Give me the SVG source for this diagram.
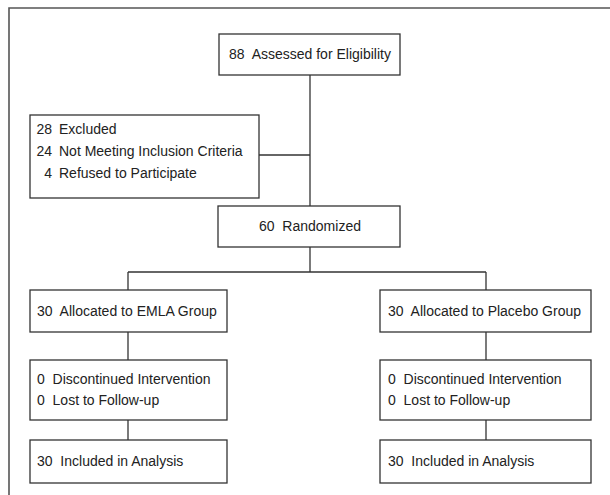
<svg xmlns="http://www.w3.org/2000/svg" width="610" height="495" viewBox="0 0 610 495">
<style>
.box{fill:#fff;stroke:#333;stroke-width:1.3}
.ln{fill:none;stroke:#333;stroke-width:1.3}
.frame{fill:none;stroke:#555;stroke-width:1.6}
text{font-family:"Liberation Sans Narrow","Arial Narrow","Liberation Sans",sans-serif;font-size:14px;fill:#222;white-space:pre}
.num{text-anchor:end}
</style>
<rect width="610" height="495" fill="#fff"/>
<path class="frame" d="M9,495 V8 H610"/>
<g id="connectors">
<path class="ln" d="M310,75 V206"/>
<path class="ln" d="M259,155 H310"/>
<path class="ln" d="M310,247 V272"/>
<path class="ln" d="M128,272 H486"/>
<path class="ln" d="M128,272 V290"/>
<path class="ln" d="M486,272 V290"/>
<path class="ln" d="M128,332 V360"/>
<path class="ln" d="M486,332 V360"/>
<path class="ln" d="M128,420 V440"/>
<path class="ln" d="M486,420 V440"/>
</g>
<g id="assessed">
<rect class="box" x="219" y="34" width="181" height="41"/>
<text x="310" y="59" text-anchor="middle">88  Assessed for Eligibility</text>
</g>
<g id="excluded">
<rect class="box" x="30" y="115" width="229" height="83"/>
<text y="134"><tspan class="num" x="52">28</tspan><tspan x="59">Excluded</tspan></text>
<text y="156"><tspan class="num" x="52">24</tspan><tspan x="59">Not Meeting Inclusion Criteria</tspan></text>
<text y="178"><tspan class="num" x="52">4</tspan><tspan x="59">Refused to Participate</tspan></text>
</g>
<g id="randomized">
<rect class="box" x="218" y="206" width="182" height="41"/>
<text x="310" y="231" text-anchor="middle">60  Randomized</text>
</g>
<g id="emla">
<rect class="box" x="30" y="290" width="197" height="42"/>
<text x="37" y="316">30  Allocated to EMLA Group</text>
</g>
<g id="placebo">
<rect class="box" x="380" y="290" width="211" height="42"/>
<text x="388" y="316">30  Allocated to Placebo Group</text>
</g>
<g id="emla-disc">
<rect class="box" x="30" y="360" width="197" height="60"/>
<text x="37" y="384">0  Discontinued Intervention</text>
<text x="37" y="405">0  Lost to Follow-up</text>
</g>
<g id="placebo-disc">
<rect class="box" x="380" y="360" width="211" height="60"/>
<text x="388" y="384">0  Discontinued Intervention</text>
<text x="388" y="405">0  Lost to Follow-up</text>
</g>
<g id="emla-incl">
<rect class="box" x="30" y="440" width="197" height="43"/>
<text x="37" y="466">30  Included in Analysis</text>
</g>
<g id="placebo-incl">
<rect class="box" x="380" y="440" width="211" height="43"/>
<text x="388" y="466">30  Included in Analysis</text>
</g>
</svg>
